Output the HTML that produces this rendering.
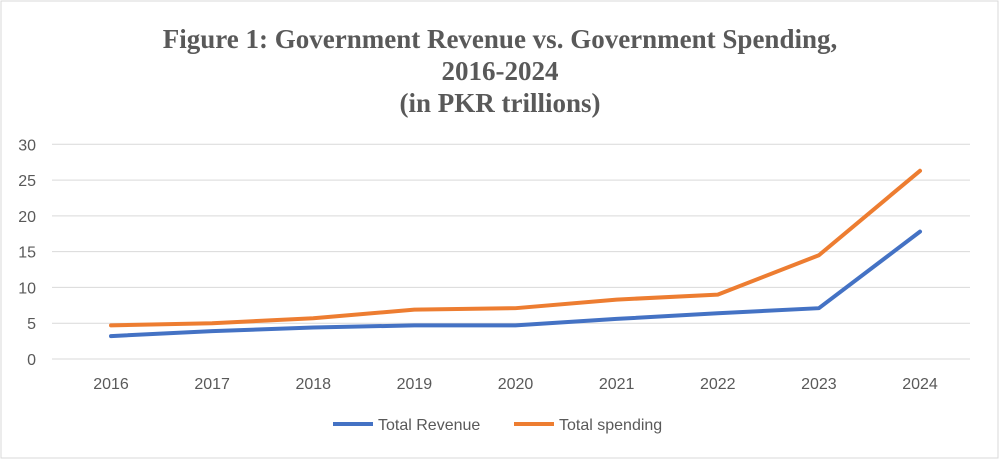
<!DOCTYPE html>
<html><head><meta charset="utf-8"><style>
body{margin:0;background:#fff;}
svg{display:block;}
</style></head><body>
<svg id="chart" width="1000" height="460" xmlns="http://www.w3.org/2000/svg">
<rect x="1" y="1" width="997" height="457" fill="#fff" stroke="#d9d9d9"/>
<g font-family="Liberation Serif, serif" font-weight="bold" font-size="27" fill="#595959" text-anchor="middle">
<text x="500" y="48">Figure 1: Government Revenue vs. Government Spending,</text>
<text x="500" y="80">2016-2024</text>
<text x="500" y="112">(in PKR trillions)</text>
</g>
<g id="grid"></g><g id="xlabels"></g><g id="series"></g>
<g font-family="Liberation Sans, sans-serif" font-size="16" fill="#595959">
<line x1="333" y1="424" x2="373" y2="424" stroke="#4472c4" stroke-width="4"/>
<text x="378" y="430">Total Revenue</text>
<line x1="514" y1="424" x2="554" y2="424" stroke="#ed7d31" stroke-width="4"/>
<text x="559" y="430">Total spending</text>
</g>
</svg>
<script>
const years = ["2016","2017","2018","2019","2020","2021","2022","2023","2024"];
const revenue = [3.2,3.9,4.4,4.7,4.7,5.6,6.4,7.1,17.8];
const spending = [4.7,5.0,5.7,6.9,7.1,8.3,9.0,14.5,26.3];
const yTicks = [0,5,10,15,20,25,30];
const NS="http://www.w3.org/2000/svg";
const y0=359, yTop=144.3, x0=111, x1=920;
const ys=v=>y0-(v/30)*(y0-yTop);
const xs=i=>x0+i*(x1-x0)/(years.length-1);
function mk(t,a,p){const e=document.createElementNS(NS,t);for(const k in a)e.setAttribute(k,a[k]);p.appendChild(e);return e;}
const grid=document.getElementById('grid');
yTicks.forEach(v=>{
 const l=mk('line',{x1:52,x2:970,y1:ys(v),y2:ys(v),stroke:'#d9d9d9','stroke-width':1},grid);
 
 
 const t=mk('text',{x:36,y:ys(v)+6,'text-anchor':'end','font-family':'Liberation Sans, sans-serif','font-size':16,fill:'#595959'},grid);
 t.textContent=v;
 
 
});
const xl=document.getElementById('xlabels');
years.forEach((y,i)=>{
 const t=mk('text',{x:xs(i),y:389,'text-anchor':'middle','font-family':'Liberation Sans, sans-serif','font-size':16,fill:'#595959'},xl);
 t.textContent=y;
 
 
});
const sg=document.getElementById('series');
[[revenue,'#4472c4','revenue-line'],[spending,'#ed7d31','spending-line']].forEach(([d,c,n])=>{
 const p=mk('polyline',{points:d.map((v,i)=>xs(i)+','+ys(v)).join(' '),fill:'none',stroke:c,'stroke-width':4,'stroke-linejoin':'round','stroke-linecap':'round'},sg);
 
 
});
</script>
</body></html>
